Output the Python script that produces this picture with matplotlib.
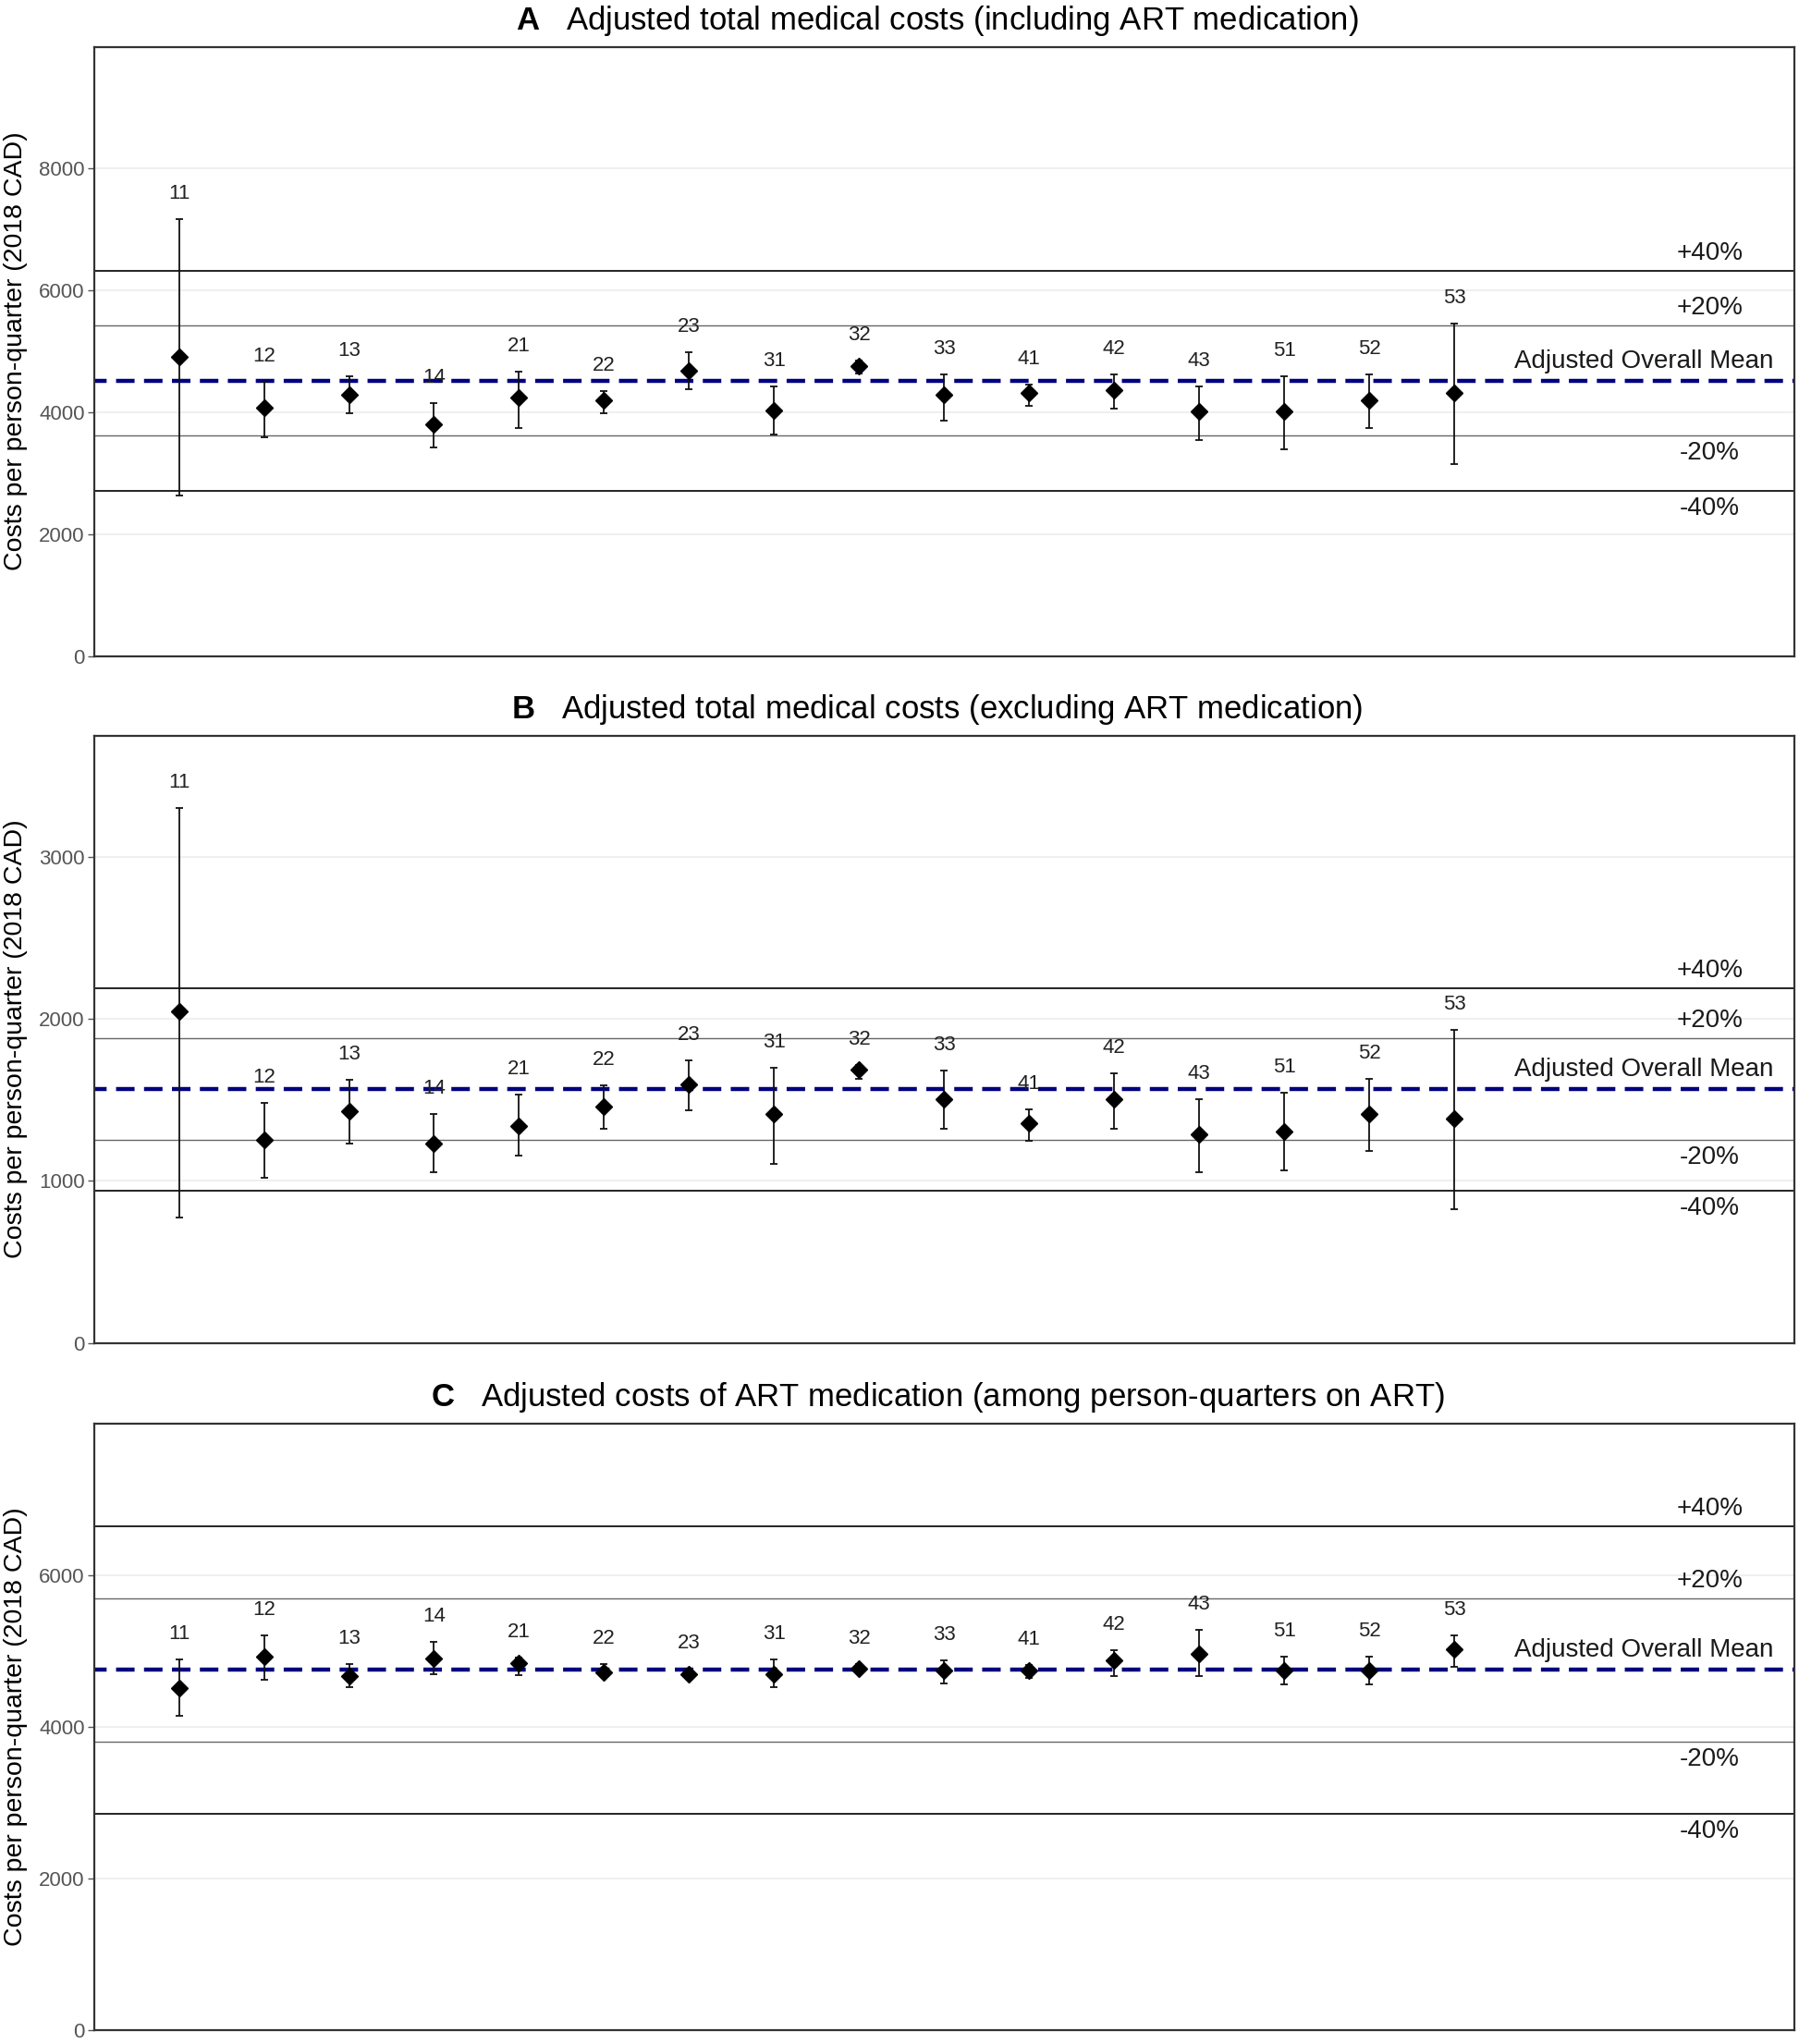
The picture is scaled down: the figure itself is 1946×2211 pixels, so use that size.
import numpy as np
import matplotlib
matplotlib.use("Agg")
import matplotlib.pyplot as plt

plt.rcParams['font.family'] = ['Liberation Sans', 'DejaVu Sans']
plt.rcParams['mathtext.fontset'] = 'custom'
plt.rcParams['mathtext.rm'] = 'Liberation Sans'
plt.rcParams['mathtext.bf'] = 'Liberation Sans:bold'

# регіони (підписи точок)
labels = ["11", "12", "13", "14", "21", "22", "23", "31", "32", "33",
          "41", "42", "43", "51", "52", "53"]

# A: загальні медичні витрати (з АРТ)
mean_a = 4520
est_a = [4913, 4077, 4286, 3798, 4237, 4202, 4683, 4035, 4760, 4286, 4321, 4369, 4007, 4007, 4202, 4314]
lo_a = [2627, 3589, 3986, 3429, 3742, 3986, 4383, 3638, 4634, 3868, 4111, 4063, 3540, 3394, 3742, 3150]
hi_a = [7178, 4495, 4585, 4146, 4662, 4348, 4983, 4425, 4843, 4620, 4460, 4620, 4425, 4592, 4620, 5449]

# B: загальні медичні витрати (без АРТ)
mean_b = 1566
est_b = [2045, 1254, 1430, 1233, 1341, 1462, 1597, 1414, 1689, 1505, 1357, 1505, 1287, 1308, 1416, 1384]
lo_b = [777, 1017, 1233, 1052, 1155, 1322, 1438, 1106, 1632, 1322, 1249, 1322, 1052, 1066, 1187, 828]
hi_b = [3305, 1484, 1624, 1411, 1532, 1592, 1745, 1700, 1718, 1681, 1443, 1667, 1503, 1546, 1632, 1934]

# C: витрати на АРТ
mean_c = 4745
est_c = [4507, 4923, 4666, 4894, 4837, 4718, 4689, 4695, 4763, 4735, 4735, 4877, 4963, 4735, 4735, 5020]
lo_c = [4147, 4621, 4524, 4689, 4678, 4661, 4638, 4524, 4706, 4564, 4638, 4661, 4661, 4552, 4552, 4792]
hi_c = [4889, 5208, 4820, 5117, 4906, 4820, 4763, 4889, 4820, 4877, 4809, 5009, 5277, 4917, 4917, 5208]

titles = ["Adjusted total medical costs (including ART medication)",
          "Adjusted total medical costs (excluding ART medication)",
          "Adjusted costs of ART medication (among person-quarters on ART)"]
letters = ["A", "B", "C"]
ylims = [10000, 3750, 8000]
yticks = [[0, 2000, 4000, 6000, 8000], [0, 1000, 2000, 3000], [0, 2000, 4000, 6000]]

fig = plt.figure(figsize=(19.46, 22.11), dpi=100)
boxes = [[0.0522, 0.6791, 0.9453, 0.2980],
         [0.0522, 0.3430, 0.9453, 0.2971],
         [0.0522, 0.00697, 0.9453, 0.2967]]


def draw_panel(ax, est, lo, hi, mean, ymax, ticks, letter, title):
    x = np.arange(1, len(est) + 1)
    est = np.array(est)
    err = [est - np.array(lo), np.array(hi) - est]

    ax.set_xlim(0, 20)
    ax.set_ylim(0, ymax)
    ax.set_yticks(ticks)
    ax.set_xticks([])
    ax.yaxis.grid(True, color='#ebebeb', lw=1.1)
    ax.set_axisbelow(True)

    # лінії середнього та ±20%, ±40%
    ax.axhline(mean * 1.4, color='#222222', lw=1.4, zorder=1)
    ax.axhline(mean * 0.6, color='#222222', lw=1.4, zorder=1)
    ax.axhline(mean * 1.2, color='#666666', lw=1.0, zorder=1)
    ax.axhline(mean * 0.8, color='#666666', lw=1.0, zorder=1)
    ax.axhline(mean, color='#000080', lw=3.2, ls=(1.5, (4.5, 2.3)), zorder=2)

    ax.errorbar(x, est, yerr=err, fmt='none', ecolor='#111111', elinewidth=1.3,
                capsize=3, capthick=1.3, zorder=3)
    ax.plot(x, est, 'D', color='black', ms=9, zorder=4)

    for xi, h, lab in zip(x, hi, labels):
        ax.annotate(lab, (xi, h), xytext=(0, 27.5), textcoords='offset pixels',
                    ha='center', va='center', fontsize=16, color='#222222')

    pct = [(1.4, "+40%", 19), (1.2, "+20%", 19), (0.8, "-20%", -19), (0.6, "-40%", -19)]
    for f, txt, off in pct:
        ax.annotate(txt, (19, mean * f), xytext=(0, off), textcoords='offset pixels',
                    ha='center', va='center', fontsize=20, color='#1a1a1a')
    ax.annotate("Adjusted Overall Mean", (18.23, mean), xytext=(0, 21),
                textcoords='offset pixels', ha='center', va='center',
                fontsize=20, color='#1a1a1a')

    ax.annotate(r"$\mathbf{" + letter + "}$   " + title, (0.496, 1), xycoords='axes fraction',
                xytext=(0, 19), textcoords='offset pixels', ha='center', va='baseline',
                fontsize=25, color='black')

    ax.set_ylabel("Costs per person-quarter (2018 CAD)", fontsize=20.5, color='black', va='center')
    ax.yaxis.set_label_coords(-0.0459, 0.5)
    ax.tick_params(axis='y', labelsize=16, labelcolor='#555555', color='#555555',
                   length=5, width=1, pad=2)
    for s in ax.spines.values():
        s.set_color('#333333')
        s.set_linewidth(1.6)


data = [(est_a, lo_a, hi_a, mean_a), (est_b, lo_b, hi_b, mean_b), (est_c, lo_c, hi_c, mean_c)]
for i in range(3):
    ax = fig.add_axes(boxes[i])
    e, l, h, m = data[i]
    draw_panel(ax, e, l, h, m, ylims[i], yticks[i], letters[i], titles[i])

fig.savefig("out.png", dpi=100, facecolor='white')
